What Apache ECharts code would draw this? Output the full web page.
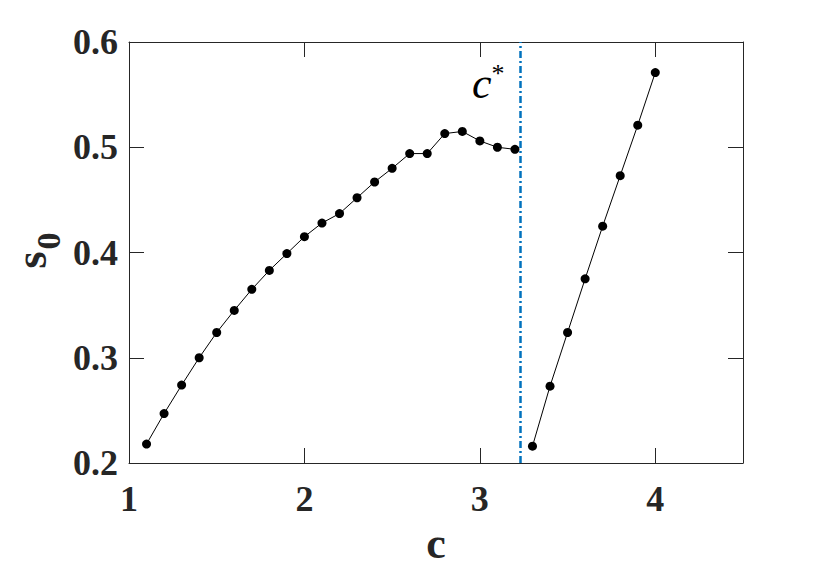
<!DOCTYPE html>
<html>
<head>
<meta charset="utf-8">
<script src="https://cdn.jsdelivr.net/npm/echarts@6/dist/echarts.min.js"></script>
<style>
  html, body { margin: 0; padding: 0; background: #fff; }
  #chart { width: 822px; height: 568px; }
</style>
</head>
<body>
<div id="chart"></div>
<script>
// left branch (c < c*)
const cLeft = [1.1, 1.2, 1.3, 1.4, 1.5, 1.6, 1.7, 1.8, 1.9, 2.0, 2.1, 2.2, 2.3, 2.4, 2.5, 2.6, 2.7, 2.8, 2.9, 3.0, 3.1, 3.2];
const s0Left = [0.218, 0.247, 0.274, 0.300, 0.324, 0.345, 0.365, 0.383, 0.399, 0.415, 0.428, 0.437, 0.452, 0.467, 0.480, 0.494, 0.494, 0.513, 0.515, 0.506, 0.500, 0.498];
// right branch (c > c*)
const cRight = [3.3, 3.4, 3.5, 3.6, 3.7, 3.8, 3.9, 4.0];
const s0Right = [0.216, 0.273, 0.324, 0.375, 0.425, 0.473, 0.521, 0.571];
const cStar = 3.225;

const font = "'Liberation Serif', 'DejaVu Serif', serif";
const axisColor = '#262626';

const chart = echarts.init(document.getElementById('chart'), null, { renderer: 'svg' });

const tickStyle = { show: true, inside: true, length: 15, lineStyle: { color: axisColor, width: 1 } };

chart.setOption({
    animation: false,
    grid: { left: 129, right: 79, top: 42, bottom: 105, containLabel: false, outerBoundsMode: 'none' },
    xAxis: [
        {
            type: 'value', min: 1, max: 4.5, interval: 1,
            name: 'c', nameLocation: 'middle', nameGap: 56,
            nameTextStyle: { fontFamily: font, fontWeight: 'bold', fontSize: 44, lineHeight: 44, color: axisColor },
            axisLine: { show: true, onZero: false, lineStyle: { color: axisColor, width: 1 } },
            axisTick: tickStyle,
            axisLabel: {
                margin: 18, fontFamily: font, fontWeight: 'bold', fontSize: 36, color: axisColor,
                formatter: v => (v % 1 === 0 ? String(v) : '')
            },
            splitLine: { show: false }
        },
        {
            type: 'value', position: 'top', min: 1, max: 4.5, interval: 1,
            axisLine: { show: true, onZero: false, lineStyle: { color: axisColor, width: 1 } },
            axisTick: tickStyle, axisLabel: { show: false }, splitLine: { show: false }
        }
    ],
    yAxis: [
        {
            type: 'value', min: 0.2, max: 0.6, interval: 0.1,
            axisLine: { show: true, onZero: false, lineStyle: { color: axisColor, width: 1 } },
            axisTick: tickStyle,
            axisLabel: {
                margin: 11, fontFamily: font, fontWeight: 'bold', fontSize: 36, color: axisColor,
                formatter: v => v.toFixed(1)
            },
            splitLine: { show: false }
        },
        {
            type: 'value', position: 'right', min: 0.2, max: 0.6, interval: 0.1,
            axisLine: { show: true, onZero: false, lineStyle: { color: axisColor, width: 1 } },
            axisTick: tickStyle, axisLabel: { show: false }, splitLine: { show: false }
        }
    ],
    series: [
        {
            type: 'line',
            data: cLeft.map((c, i) => [c, s0Left[i]]),
            symbol: 'circle', symbolSize: 9,
            lineStyle: { color: '#000', width: 1 },
            itemStyle: { color: '#000' },
            markLine: {
                silent: true, symbol: 'none',
                label: { show: false },
                lineStyle: { color: '#0072BD', width: 2.5, type: [7, 3, 2, 3] },
                data: [{ xAxis: cStar }]
            },
            z: 3
        },
        {
            type: 'line',
            data: cRight.map((c, i) => [c, s0Right[i]]),
            symbol: 'circle', symbolSize: 9,
            lineStyle: { color: '#000', width: 1 },
            itemStyle: { color: '#000' },
            z: 3
        }
    ],
    graphic: [
        // y axis title s_0
        {
            type: 'group', x: 40, y: 252, rotation: Math.PI / 2,
            children: [
                {
                    type: 'text', x: -8, y: -9,
                    style: { text: 's', fontFamily: font, fontWeight: 'bold', fontSize: 44, fill: axisColor, align: 'center', verticalAlign: 'middle' }
                },
                {
                    type: 'text', x: 11, y: 8,
                    style: { text: '0', fontFamily: font, fontWeight: 'bold', fontSize: 34, fill: axisColor, align: 'center', verticalAlign: 'middle' }
                }
            ]
        },
        // c* label
        {
            type: 'text', left: 472, top: 60,
            style: {
                text: '{c|c}{st|*}',
                rich: {
                    c: { fontFamily: font, fontStyle: 'italic', fontSize: 44, fill: '#000', lineHeight: 46 },
                    st: { fontFamily: font, fontSize: 26, fill: '#000', lineHeight: 46, verticalAlign: 'top', padding: [0, 0, 22, 0] }
                }
            }
        }
    ]
});
</script>
</body>
</html>
